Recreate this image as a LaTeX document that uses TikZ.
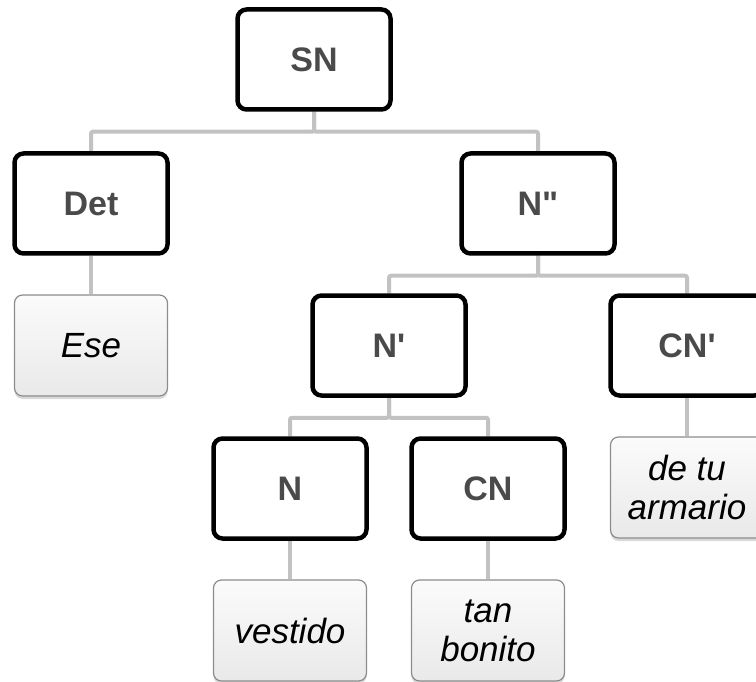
\documentclass[tikz,border=0pt]{standalone}
\usepackage{fontspec}
\setmainfont[Ligatures=TeXOff]{Liberation Sans}
\usetikzlibrary{shadows,backgrounds}
\definecolor{linkgray}{HTML}{C2C2C2}
\definecolor{labelgray}{HTML}{4A4A4A}
\definecolor{leafedge}{HTML}{8C8C8C}
\definecolor{leaftop}{HTML}{FBFBFB}
\definecolor{leafbottom}{HTML}{E9E9E9}
\tikzset{
  phrase/.style={draw=black, line width=4.5pt, rounded corners=9pt, fill=white,
    minimum width=153pt, minimum height=100pt, inner sep=0pt,
    text=labelgray, font=\fontsize{34}{39}\selectfont\bfseries},
  word/.style={draw=leafedge, line width=1.2pt, rounded corners=8pt,
    top color=leaftop, bottom color=leafbottom,
    drop shadow={shadow xshift=0pt, shadow yshift=-3pt, opacity=0.3},
    minimum width=153pt, minimum height=101pt, inner sep=0pt, align=center,
    text=black, font=\fontsize{35}{39}\selectfont\itshape},
  link/.style={draw=linkgray, line width=4pt, rounded corners=2pt}
}
\begin{document}
\begin{tikzpicture}[x=1pt,y=-1pt]
\useasboundingbox (0,0) rectangle (756,682);

% phrase nodes
\node[phrase] (SN)  at (314,59.5)  {SN};
\node[phrase] (Det) at (91,203.5)  {Det};
\node[phrase] (Nbb) at (538,203.5) {N"};
\node[phrase] (Nb)  at (389,345.5) {N'};
\node[phrase] (CNb) at (687,345.5) {CN'};
\node[phrase] (N)   at (290,488.5) {N};
\node[phrase] (CN)  at (488,488.5) {CN};

% word leaves
\node[word] (ese)     at (91,345.5)  {Ese};
\node[word] (armario) at (687,487.5) {de tu\\armario};
\node[word] (vestido) at (290,630.5) {vestido};
\node[word] (bonito)  at (488,630.5) {tan\\bonito};

% branches
\begin{pgfonlayer}{background}
\draw[link] (SN.south) -- ++(0,20) -| (Det.north);
\draw[link] (SN.south) -- ++(0,20) -| (Nbb.north);
\draw[link] (Nbb.south) -- ++(0,20) -| (Nb.north);
\draw[link] (Nbb.south) -- ++(0,20) -| (CNb.north);
\draw[link] (Nb.south) -- ++(0,20) -| (N.north);
\draw[link] (Nb.south) -- ++(0,20) -| (CN.north);
\draw[link] (Det.south) -- (ese.north);
\draw[link] (CNb.south) -- (armario.north);
\draw[link] (N.south) -- (vestido.north);
\draw[link] (CN.south) -- (bonito.north);
\end{pgfonlayer}
\end{tikzpicture}
\end{document}
